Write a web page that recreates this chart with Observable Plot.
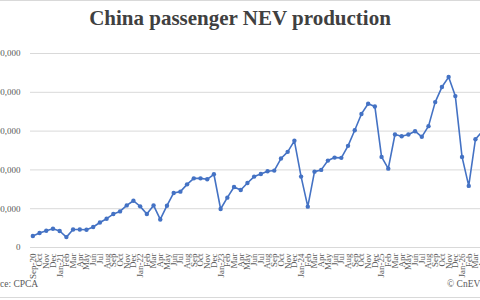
<!DOCTYPE html>
<html><head><meta charset="utf-8">
<script src="https://cdn.jsdelivr.net/npm/d3@7"></script>
<script src="https://cdn.jsdelivr.net/npm/@observablehq/plot@0.6"></script>
<style>
html,body{margin:0;padding:0;overflow:hidden;background:#fff;}
#wrap{position:relative;width:480px;height:300px;overflow:hidden;background:#fff;font-family:"Liberation Serif","Times New Roman",serif;}
#title{position:absolute;left:0;width:480px;top:6px;text-align:center;font-weight:bold;font-size:21px;color:#404040;white-space:nowrap;}
#chart{position:absolute;left:-40px;top:40px;}
.src{position:absolute;font-size:9.5px;color:#595959;top:279px;white-space:nowrap;}
.rule{position:absolute;left:0;width:480px;height:1px;background:#d9d9d9;}
</style></head>
<body><div id="wrap">
<div class="rule" style="top:0px"></div>
<div id="title">China passenger NEV production</div>
<div id="chart"></div>
<div class="src" style="left:-18px">Source: CPCA</div>
<div class="src" style="left:447px">© CnEVPost</div>
<div class="rule" style="top:297px"></div>
</div>
<script>
// month keys and the axis labels shown for them
const months = ["Sep-20","Oct-20","Nov-20","Dec-20","Jan-21","Feb-21","Mar-21","Apr-21","May-21","Jun-21","Jul-21","Aug-21","Sep-21","Oct-21","Nov-21","Dec-21",
"Jan-22","Feb-22","Mar-22","Apr-22","May-22","Jun-22","Jul-22","Aug-22","Sep-22","Oct-22","Nov-22","Dec-22",
"Jan-23","Feb-23","Mar-23","Apr-23","May-23","Jun-23","Jul-23","Aug-23","Sep-23","Oct-23","Nov-23","Dec-23",
"Jan-24","Feb-24","Mar-24","Apr-24","May-24","Jun-24","Jul-24","Aug-24","Sep-24","Oct-24","Nov-24","Dec-24",
"Jan-25","Feb-25","Mar-25","Apr-25","May-25","Jun-25","Jul-25","Aug-25","Sep-25","Oct-25","Nov-25","Dec-25",
"Jan-26","Feb-26","Mar-26","Apr-26"];
const tickLabels = ["Sep-20","Oct","Nov","Dec","Jan-21","Feb","Mar","Apr","May","Jun","Jul","Aug","Sep","Oct","Nov","Dec",
"Jan-22","Feb","Mar","Apr","May","Jun","Jul","Aug","Sep","Oct","Nov","Dec",
"Jan-23","Feb","Mar","Apr","May","Jun","Jul","Aug","Sep","Oct","Nov","Dec",
"Jan-24","Feb","Mar","Apr","May","Jun","Jul","Aug","Sep","Oct","Nov","Dec",
"Jan-25","Feb","Mar","Apr","May","Jun","Jul","Aug","Sep","Oct","Nov","Dec",
"Jan-26","Feb","Mar","Apr"];
// passenger NEV production (units)
const production = [118000,149000,173000,193000,170000,107000,186000,186000,183000,211000,258000,297000,345000,372000,434000,482000,
424000,345000,434000,289000,431000,562000,576000,651000,713000,713000,703000,755000,
397000,514000,624000,593000,665000,731000,758000,786000,793000,917000,986000,1100000,
731000,421000,782000,800000,896000,927000,924000,1048000,1209000,1377000,1482000,1454000,
934000,813000,1165000,1147000,1165000,1199000,1141000,1251000,1499000,1654000,1757000,1561000,
934000,635000,1116000,1196000];
const yTicks = [0,400000,800000,1200000,1600000,2000000];

const labelOf = new Map(months.map((m,i)=>[m,tickLabels[i]]));
const data = months.map((m,i)=>({m, v: production[i]}));

const chart = Plot.plot({
  width: 534, height: 260,
  marginLeft: 70, marginRight: 10, marginTop: 13, marginBottom: 53,
  style: {fontFamily: "Liberation Serif, 'Times New Roman', serif", fontSize: "9px", color: "#595959", background: "white", maxWidth: "none", overflow: "visible"},
  x: {type: "point", domain: months, padding: 0.35, label: null, tickSize: 0, tickPadding: 6, tickRotate: -90, tickFormat: d => labelOf.get(d)},
  y: {domain: [0, 2000000], ticks: yTicks, tickFormat: d3.format(","), label: null, tickSize: 0, tickPadding: 10},
  marks: [
    Plot.ruleY(yTicks, {stroke: "#d9d9d9", strokeWidth: 1}),
    Plot.line(data, {x: "m", y: "v", stroke: "#4472C4", strokeWidth: 1.6}),
    Plot.dot(data, {x: "m", y: "v", fill: "#4472C4", r: 2.2})
  ]
});
document.getElementById("chart").appendChild(chart);
</script>
</body></html>
